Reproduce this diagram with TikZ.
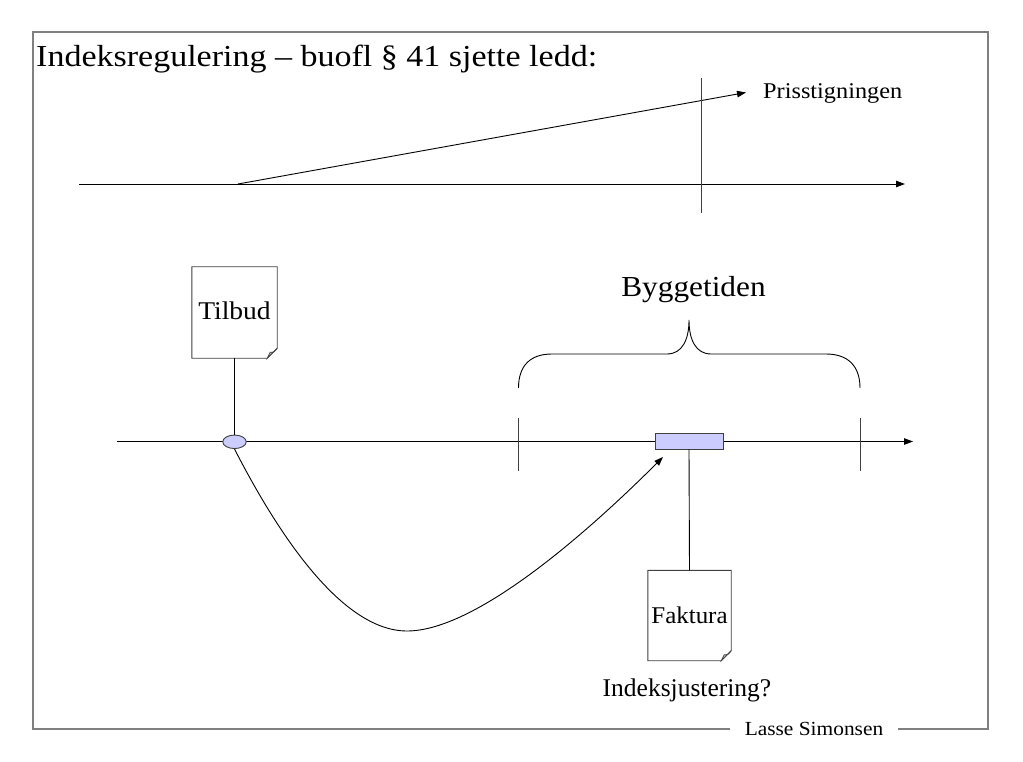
\documentclass[tikz,border=0pt]{standalone}
\usepackage{fontspec}
\usepackage{graphicx}
\setmainfont{Liberation Serif}
\usetikzlibrary{arrows.meta,shapes.geometric}
\definecolor{lav}{HTML}{CCCCFF}
\definecolor{framegray}{HTML}{808080}
\definecolor{docgray}{HTML}{404040}
\tikzset{
  ln/.style={line width=0.9pt, draw=black},
  arr/.style={ln, -{Triangle[length=9pt,width=6.5pt]}},
  docbox/.style={draw=none, minimum width=85pt, minimum height=91pt, inner sep=0pt},
  docline/.style={draw=docgray, fill=white, line width=0.9pt},
  foldst/.style={draw=docgray, fill=gray!45, line width=0.7pt},
  txt/.style={inner sep=0pt, text=black},
}
\newcommand{\docshape}[1]{%
  \path[docline] (#1.north west) -- (#1.north east) -- ([yshift=10pt]#1.south east) -- ([xshift=-10pt]#1.south east) -- (#1.south west) -- cycle;
  \path[foldst] ([yshift=10pt]#1.south east) .. controls ([xshift=-3pt,yshift=6pt]#1.south east) .. ([xshift=-7pt,yshift=6pt]#1.south east) .. controls ([xshift=-8pt,yshift=3pt]#1.south east) .. ([xshift=-10pt]#1.south east) -- cycle;
}
\begin{document}
\begin{tikzpicture}[x=1pt,y=-1pt]
\useasboundingbox (0,0) rectangle (1023,762);
% frame
\node[txt, anchor=base, font=\fontsize{20}{24}\selectfont] (lasse) at (814,735) {\scalebox{1.07}[1]{Lasse Simonsen}};
\draw[framegray, line width=1.1pt] (730,729) -- (33,729) -- (33,32) -- (988,32) -- (988,729) -- (898,729);
% title
\node[txt, anchor=base west, font=\fontsize{30.5}{34}\selectfont] (title) at (36,66.7) {\scalebox{1.115}[1]{Indeksregulering – buofl § 41 sjette ledd:}};
% top diagram
\coordinate (tas) at (79,184);
\coordinate (tae) at (905,184);
\coordinate (ss) at (238,184);
\coordinate (se) at (746,92.5);
\coordinate (vt) at (701,78);
\coordinate (vb) at (701,213);
\draw[arr] (tas) -- (tae);
\draw[arr] (ss) -- (se);
\draw[ln, draw=docgray] (vt) -- (vb);
\node[txt, anchor=base west, font=\fontsize{22.5}{26}\selectfont] (pris) at (763,98.3) {\scalebox{1.08}[1]{Prisstigningen}};
% lower axis
\coordinate (las) at (117,441.5);
\coordinate (lae) at (913,441.5);
\draw[arr] (las) -- (lae);
\coordinate (t1a) at (518.5,418);
\coordinate (t1b) at (518.5,471);
\coordinate (t2a) at (860,418);
\coordinate (t2b) at (860,471);
\draw[ln, draw=docgray] (t1a) -- (t1b);
\draw[ln, draw=docgray] (t2a) -- (t2b);
% brace
\coordinate (bl) at (518.5,388);
\coordinate (br) at (860,388);
\coordinate (bp) at (689,320);
\draw[line width=0.9pt] (bl) .. controls (518.5,366) and (530,354) .. (552,354) -- (667,354) .. controls (682,354) and (689,340) .. (bp) .. controls (689,340) and (696,354) .. (711,354) -- (826,354) .. controls (848,354) and (860,366) .. (br);
\node[txt, anchor=base, font=\fontsize{29}{34}\selectfont] (bygg) at (693.5,296) {\scalebox{1.08}[1]{Byggetiden}};
% ellipse and rect
\node[ellipse, draw=docgray, fill=lav, line width=0.9pt, minimum width=23.5pt, minimum height=13.5pt, inner sep=0pt] (ell) at (234.5,441.8) {};
\node[rectangle, draw=docgray, fill=lav, line width=0.9pt, minimum width=68pt, minimum height=16pt, inner sep=0pt] (box) at (689,441) {};
% documents
\node[docbox] (tilbud) at (234.5,312.5) {};
\docshape{tilbud}
\node[txt, font=\fontsize{25.5}{28}\selectfont] (tilbudtxt) at ([yshift=2pt]tilbud.center) {\scalebox{1.08}[1]{Tilbud}};
\node[docbox, minimum width=83pt, minimum height=90pt] (faktura) at (689.5,615.5) {};
\docshape{faktura}
\node[txt, font=\fontsize{24}{28}\selectfont] (fakturatxt) at (faktura) {\scalebox{1.04}[1]{Faktura}};
\draw[ln] (tilbud.south) -- (ell.north);
\draw[ln] (box.south) -- (faktura.north);
\node[txt, anchor=base, font=\fontsize{25.5}{30}\selectfont] (indeks) at (687,696.7) {Indeksjustering?};
% curve
\coordinate (cend) at (663,457);
\coordinate (cmin) at (407,631);
\draw[arr] (ell.south) .. controls (275,528) and (340,631) .. (cmin) .. controls (480,631) and (600,520) .. (cend);
\end{tikzpicture}
\end{document}
